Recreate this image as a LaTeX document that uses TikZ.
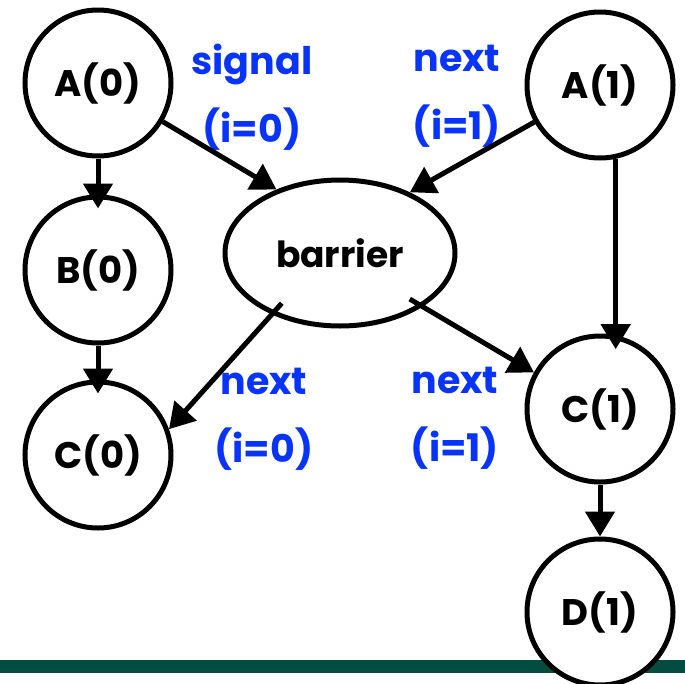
\documentclass[tikz,border=0pt]{standalone}
\usepackage{fontspec}
\setmainfont{Poppins}
\usetikzlibrary{arrows.meta,shapes.geometric}
\definecolor{labelblue}{RGB}{8,52,250}
\definecolor{bargreen}{RGB}{2,76,66}
\tikzset{
  task/.style={circle,draw,line width=5pt,fill=white,minimum size=146pt,inner sep=0pt,font=\bfseries\fontsize{37}{42}\selectfont},
  sync/.style={ellipse,draw,line width=5pt,fill=white,minimum width=230pt,minimum height=146pt,inner sep=0pt,font=\bfseries\fontsize{36}{42}\selectfont},
  flow/.style={line width=5pt,-{Triangle[length=25pt,width=29pt]}},
  flowin/.style={flow,shorten >=-14pt},
  lbl/.style={text=labelblue,align=center,font=\bfseries\fontsize{38}{68}\selectfont}
}
\begin{document}
\begin{tikzpicture}[x=1pt,y=-1pt]
              \useasboundingbox (0,0) rectangle (685,683);
              \fill[bargreen] (0,660) rectangle (685,673);
              \node[task](a0)at(98,83){A(0)};
              \node[task](b0)at(98,270){B(0)};
              \node[task](c0)at(98,455){C(0)};
              \node[task](a1)at(600,85){A(1)};
              \node[task](c1)at(600,409){C(1)};
              \node[task](d1)at(600,612){D(1)};
              \node[sync](barrier)at(340,253){barrier};
              \node[lbl](sig0)at(252,97){signal\\(i=0)};
              \node[lbl](nxt1a)at(457,96){next\\(i=1)};
              \node[lbl](nxt0)at(264,419){next\\(i=0)};
              \node[lbl](nxt1b)at(455,418){next\\(i=1)};
              \draw[flowin](a0)--(b0);
              \draw[flowin](b0)--(c0);
              \draw[flow](c1)--(d1);
              \draw[flow](a0)--(barrier.135);
              \draw[flow](a1)--(barrier.41);
              \draw[flowin](a1.-78)--(c1.78);
              \draw[flow,shorten <=-15pt](barrier.222)--(c0.20);
              \draw[flow,shorten <=-15pt](barrier.-33)--(c1.151);
            \end{tikzpicture}
\end{document}
